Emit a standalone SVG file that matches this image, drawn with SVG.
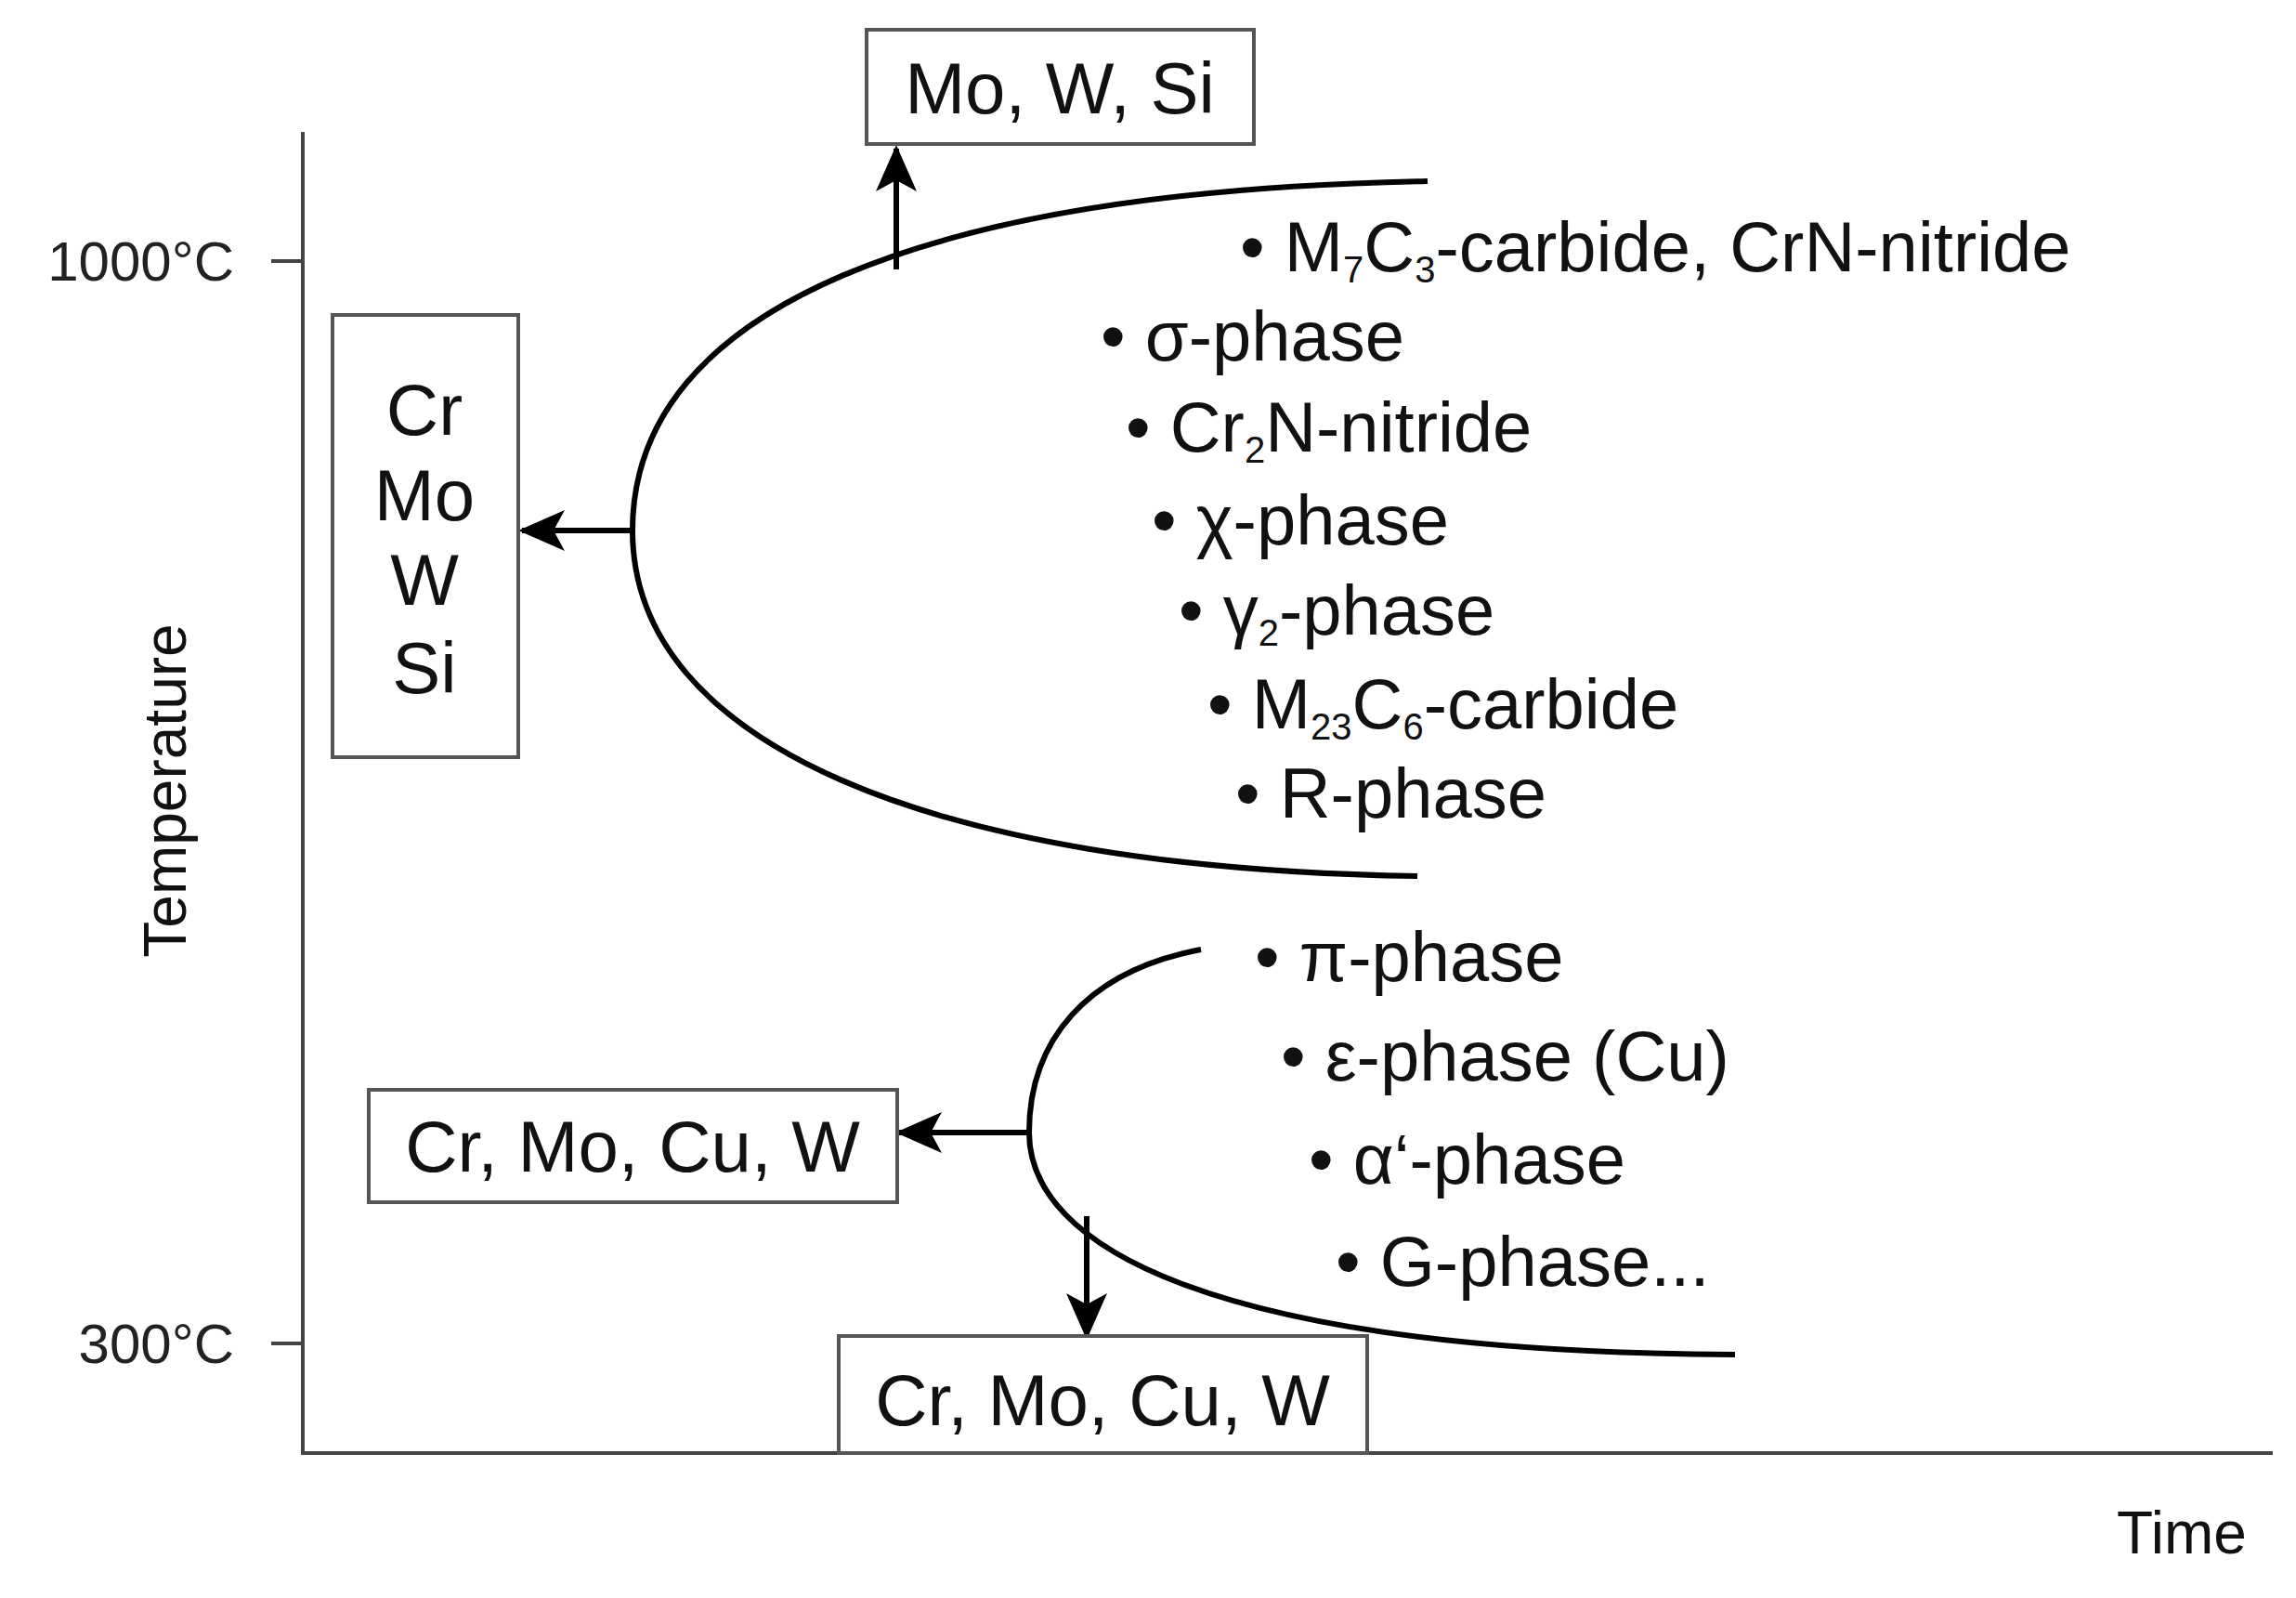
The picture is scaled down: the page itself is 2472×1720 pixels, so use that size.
<svg xmlns="http://www.w3.org/2000/svg" width="2472" height="1720" viewBox="0 0 2472 1720">
<style>
text{font-family:"Liberation Sans",Arial,sans-serif;fill:#111}
.lab{font-size:76px}
.box{fill:#fff;stroke:#555;stroke-width:4}
.bt{font-size:78px;text-anchor:middle}
.ax{stroke:#444;stroke-width:4;fill:none}
.cv{stroke:#000;stroke-width:6;fill:none}
.ar{stroke:#000;stroke-width:6;fill:none}
.tk{font-size:60px;text-anchor:end;fill:#222}
.sub{font-size:40px}
</style>
<defs>
<marker id="ah" markerUnits="userSpaceOnUse" markerWidth="50" markerHeight="44" refX="46" refY="22" orient="auto">
<path d="M0,0 L50,22 L0,44 L12,22 Z" fill="#000"/>
</marker>
</defs>
<rect width="2472" height="1720" fill="#fff"/>
<g id="axes">
<path class="ax" d="M326,142 V1564 H2447"/>
<path class="ax" d="M292,281 H326 M292,1446 H326"/>
<text class="tk" x="252" y="302">1000°C</text>
<text class="tk" x="252" y="1467">300°C</text>
<text font-size="64" text-anchor="middle" transform="translate(200,851) rotate(-90)">Temperature</text>
<text font-size="64" x="2349" y="1672" text-anchor="middle">Time</text>
</g>
<g id="connectors">
<path class="cv" d="M1537,195 C1000,205 681,330 681,571 C681,800 1000,935 1526,943"/>
<path class="cv" d="M1293,1022 C1170,1045 1108,1120 1108,1219 C1108,1340 1300,1455 1868,1458"/>
<path class="ar" d="M965,290 V160" marker-end="url(#ah)"/>
<path class="ar" d="M681,571 H562" marker-end="url(#ah)"/>
<path class="ar" d="M1108,1219 H968" marker-end="url(#ah)"/>
<path class="ar" d="M1170,1309 V1438" marker-end="url(#ah)"/>
</g>
<g id="box-top">
<rect class="box" x="933" y="32" width="417" height="123"/>
<text class="bt" x="1141" y="122">Mo, W, Si</text>
</g>
<g id="box-left">
<rect class="box" x="358" y="339" width="200" height="476"/>
<text class="bt" x="457" y="468">Cr</text>
<text class="bt" x="457" y="560">Mo</text>
<text class="bt" x="457" y="651">W</text>
<text class="bt" x="457" y="746">Si</text>
</g>
<g id="box-lowleft">
<rect class="box" x="397" y="1173" width="569" height="121"/>
<text class="bt" x="681" y="1261">Cr, Mo, Cu, W</text>
</g>
<g id="box-bottom">
<rect class="box" x="903" y="1438" width="569" height="126"/>
<text class="bt" x="1187" y="1534">Cr, Mo, Cu, W</text>
</g>
<g id="list-upper" class="lab">
<text class="lab" x="1335" y="292">• M<tspan class="sub" dy="12">7</tspan><tspan dy="-12">C</tspan><tspan class="sub" dy="12">3</tspan><tspan dy="-12">-carbide, CrN-nitride</tspan></text>
<text class="lab" x="1185" y="388">• σ-phase</text>
<text class="lab" x="1212" y="486">• Cr<tspan class="sub" dy="12">2</tspan><tspan dy="-12">N-nitride</tspan></text>
<text class="lab" x="1240" y="586">• χ-phase</text>
<text class="lab" x="1269" y="683">• γ<tspan class="sub" dy="12">2</tspan><tspan dy="-12">-phase</tspan></text>
<text class="lab" x="1300" y="784">• M<tspan class="sub" dy="12">23</tspan><tspan dy="-12">C</tspan><tspan class="sub" dy="12">6</tspan><tspan dy="-12">-carbide</tspan></text>
<text class="lab" x="1330" y="880">• R-phase</text>
</g>
<g id="list-lower">
<text class="lab" x="1351" y="1056">• π-phase</text>
<text class="lab" x="1379" y="1163">• ε-phase (Cu)</text>
<text class="lab" x="1409" y="1274">• α‘-phase</text>
<text class="lab" x="1438" y="1384">• G-phase...</text>
</g>
</svg>
